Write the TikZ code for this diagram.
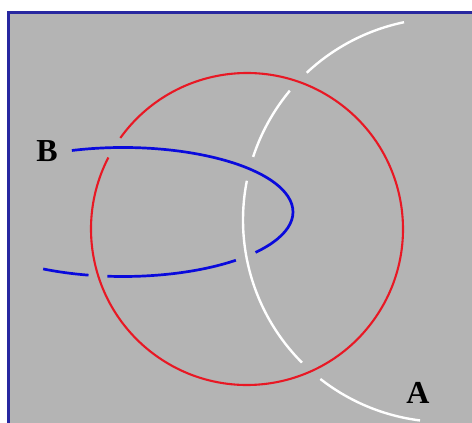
\documentclass[tikz,border=0pt]{standalone}
\usepackage{fontspec}
\setmainfont{Liberation Serif}
\definecolor{bggray}{RGB}{180,180,180}
\definecolor{frameblue}{RGB}{40,40,160}
\definecolor{cred}{RGB}{232,24,36}
\definecolor{cblue}{RGB}{10,10,220}
\tikzset{
  redline/.style={draw=cred,line width=2.1pt},
  whiteline/.style={draw=white,line width=2.4pt},
  blueline/.style={draw=cblue,line width=2.7pt},
  lbl/.style={font=\fontsize{32}{32}\selectfont\bfseries,text=black,inner sep=0pt}
}
\begin{document}
\begin{tikzpicture}[x=1pt,y=-1pt]
\useasboundingbox (0,0) rectangle (472,423);
\fill[white] (0,0) rectangle (472,423);
\fill[bggray] (8.5,12.5) rectangle (472,423);
\draw[frameblue,line width=3pt] (8.5,425) -- (8.5,12.5) -- (474,12.5);
\coordinate (R) at (247,229);
\coordinate (W) at (445,220);
\coordinate (E) at (123,212);
% white arc (segments with gaps where it passes under)
\draw[whiteline] (W) ++(97.1:202) arc[start angle=97.1,end angle=128.1,radius=202];
\draw[whiteline] (W) ++(135.1:202) arc[start angle=135.1,end angle=191.2,radius=202];
\draw[whiteline] (W) ++(198.2:202) arc[start angle=198.2,end angle=219.8,radius=202];
\draw[whiteline] (W) ++(226.8:202) arc[start angle=226.8,end angle=258.3,radius=202];
% red circle
\draw[redline] (R) ++(215.7:156) arc[start angle=215.7,end angle=567.3,radius=156];
% blue curve
\draw[blueline] (E) ++({170*cos(-107.5)},{64.5*sin(-107.5)}) arc[start angle=-107.5,end angle=38.8,x radius=170,y radius=64.5];
\draw[blueline] (E) ++({170*cos(48.4)},{64.5*sin(48.4)}) arc[start angle=48.4,end angle=95.3,x radius=170,y radius=64.5];
\draw[blueline] (E) ++({170*cos(101.7)},{64.5*sin(101.7)}) arc[start angle=101.7,end angle=118,x radius=170,y radius=64.5];
% labels
\node[lbl] (B) at (47,151) {B};
\node[lbl] (A) at (418,393) {A};
\end{tikzpicture}
\end{document}
